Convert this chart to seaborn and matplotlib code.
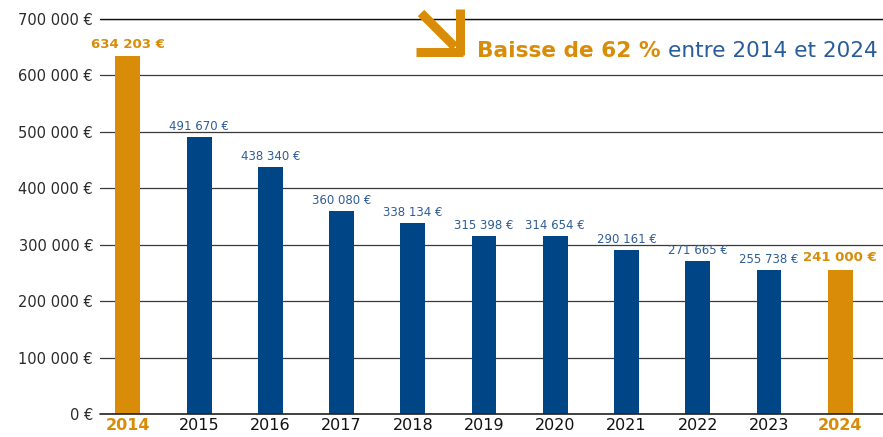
import matplotlib
matplotlib.use("Agg")
import matplotlib.pyplot as plt
from matplotlib.lines import Line2D
import seaborn as sns
import pandas as pd

# data
years = ["2014", "2015", "2016", "2017", "2018", "2019", "2020", "2021", "2022", "2023", "2024"]
bar_heights = [634203, 491670, 438340, 360080, 338134, 315398, 314654, 290161, 271665, 255738, 256000]
value_labels = ["634 203 €", "491 670 €", "438 340 €", "360 080 €", "338 134 €", "315 398 €",
                "314 654 €", "290 161 €", "271 665 €", "255 738 €", "241 000 €"]
highlight = ["2014", "2024"]
y_ticks = [0, 100000, 200000, 300000, 400000, 500000, 600000, 700000]

orange = "#D98C07"
blue = "#004687"
label_blue = "#2E5C99"

sns.set_style("white")
plt.rcParams["font.family"] = ["DejaVu Sans"]

df = pd.DataFrame({"year": years, "value": bar_heights})
palette = {y: (orange if y in highlight else blue) for y in years}

fig = plt.figure(figsize=(8.83, 4.37), dpi=100)
ax = fig.add_axes([100 / 883, 23 / 437, 783 / 883, 395 / 437])

sns.barplot(data=df, x="year", y="value", hue="year", palette=palette,
            legend=False, width=0.35, saturation=1, linewidth=0, ax=ax, zorder=3)

ax.set_xlim(-0.39, 10.6)
ax.set_ylim(0, 700000)
ax.set_yticks(y_ticks)
ax.set_yticklabels([f"{v:,}".replace(",", " ") + " €" for v in y_ticks],
                   fontsize=10.5, color="#2a2a2a")
ax.yaxis.grid(True, color="#3a3a3a", linewidth=0.9)
ax.axhline(0, color="#222222", linewidth=1.2, clip_on=False, zorder=4)
ax.axhline(700000, color="#111111", linewidth=1.0, clip_on=False, zorder=1)
ax.set_axisbelow(True)
ax.tick_params(axis="y", length=0, pad=5)
ax.tick_params(axis="x", length=0, pad=3)
for s in ax.spines.values():
    s.set_visible(False)
ax.set_xlabel(None)
ax.set_ylabel(None)

for lbl in ax.get_xticklabels():
    if lbl.get_text() in highlight:
        lbl.set_color(orange)
        lbl.set_fontweight("bold")
    else:
        lbl.set_color("#111111")
    lbl.set_fontsize(11.5)

for i, (h, txt) in enumerate(zip(bar_heights, value_labels)):
    if years[i] in highlight:
        ax.text(i, h + 9000, txt, ha="center", va="bottom", fontsize=9.5,
                fontweight="bold", color=orange, zorder=5)
    else:
        ax.text(i, h + 7000, txt, ha="center", va="bottom", fontsize=8.5,
                color=label_blue, zorder=5)

# arrow decoration
def fx(x):
    return x / 883

def fy(y):
    return 1 - y / 437

lw = 6.5
fig.add_artist(Line2D([fx(421), fx(455)], [fy(13), fy(47)], color=orange, lw=lw, solid_capstyle="butt"))
fig.add_artist(Line2D([fx(460), fx(460)], [fy(9), fy(55)], color=orange, lw=lw, solid_capstyle="butt"))
fig.add_artist(Line2D([fx(416), fx(463)], [fy(52), fy(52)], color=orange, lw=lw, solid_capstyle="butt"))

t1 = fig.text(fx(477), fy(57), "Baisse de 62 %", fontsize=15.6, fontweight="bold",
              color=orange, ha="left", va="baseline")
fig.canvas.draw()
bb = t1.get_window_extent()
fig.text(bb.x1 / fig.bbox.width + 0.008, fy(57), "entre 2014 et 2024", fontsize=15.6,
         color="#2A5C9A", ha="left", va="baseline")

fig.savefig("out.png", dpi=100)
